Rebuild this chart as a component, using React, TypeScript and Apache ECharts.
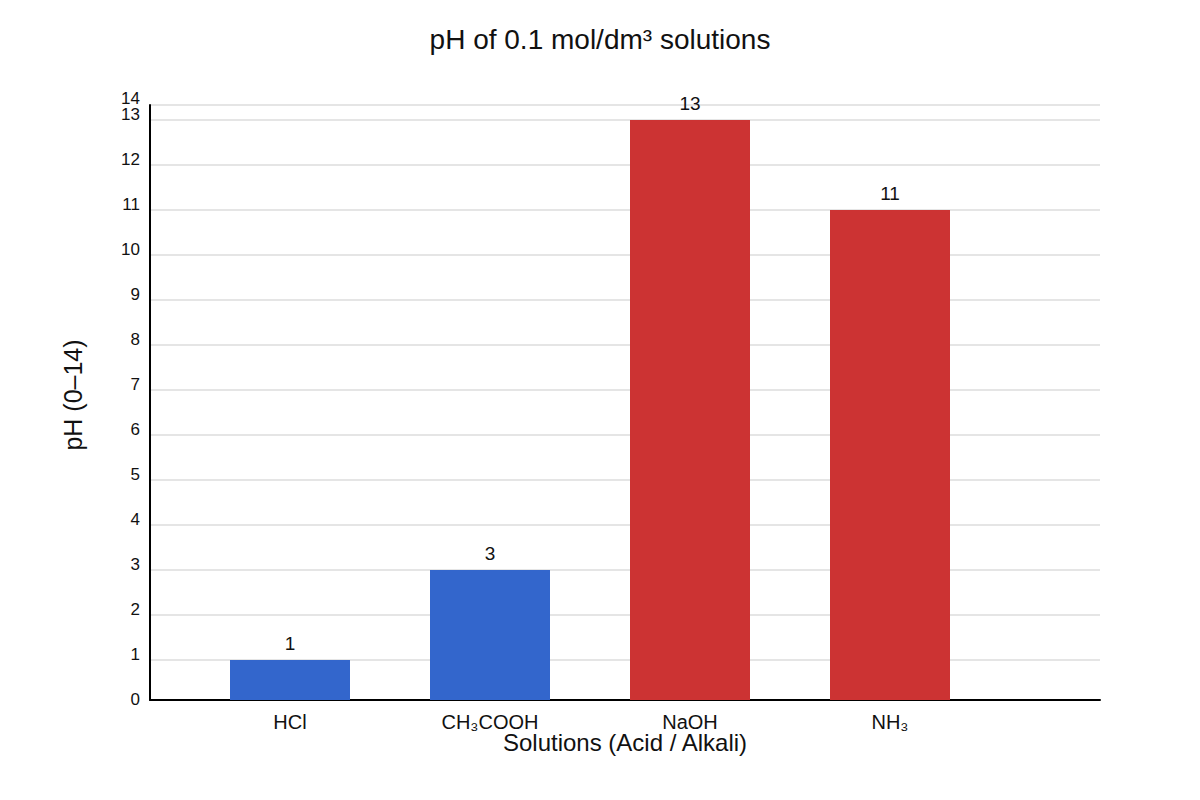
import { useEffect, useRef } from 'react'
import * as echarts from 'echarts'

// chart data
const categories = ['HCl', 'CH₃COOH', 'NaOH', 'NH₃']
const phValues = [1, 3, 13, 11]
const solutionTypes = ['acid', 'acid', 'alkali', 'alkali']

const typeColors: Record<string, string> = {
  acid: '#3366cc',
  alkali: '#cc3333',
}

// y range of the plot area (the reference axis sits a little above pH 0)
const Y_MIN = 1 / 9
const Y_MAX = 40 / 3

const FONT = '"Liberation Sans", Arial, sans-serif'

export default function App() {
  const chartRef = useRef<HTMLDivElement>(null)

  useEffect(() => {
    if (!chartRef.current) return
    const chart = echarts.init(chartRef.current, undefined, { renderer: 'svg' })

    const tickStyle = { fontSize: 17, color: '#111', fontFamily: FONT, lineHeight: 1 }

    const option = {
      animation: false,
      backgroundColor: '#ffffff',
      textStyle: { fontFamily: FONT },
      title: {
        text: 'pH of 0.1 mol/dm³ solutions',
        left: 'center',
        top: 20,
        textStyle: { fontSize: 28, fontWeight: 'normal', color: '#111', fontFamily: FONT },
      },
      grid: [
        // bars
        { left: 190, right: 210, top: 105, bottom: 100 },
        // frame: axis lines + gridlines
        { left: 150, right: 100, top: 105, bottom: 100 },
      ],
      xAxis: [
        {
          type: 'category',
          gridIndex: 0,
          data: categories,
          axisLine: { show: false },
          axisTick: { show: false },
          axisLabel: { fontSize: 20, color: '#111', margin: 12, fontFamily: FONT },
        },
        {
          type: 'value',
          gridIndex: 1,
          min: 0,
          max: 1,
          axisLine: { show: true, onZero: false, lineStyle: { color: '#000', width: 2 } },
          axisTick: { show: false },
          axisLabel: { show: false },
          splitLine: { show: false },
          name: 'Solutions (Acid / Alkali)',
          nameLocation: 'middle',
          nameGap: 30,
          nameTextStyle: { fontSize: 24, color: '#111', fontFamily: FONT },
        },
      ],
      yAxis: [
        {
          type: 'value',
          gridIndex: 0,
          min: Y_MIN,
          max: Y_MAX,
          show: false,
          splitLine: { show: false },
        },
        {
          // gridlines 1..13 plus the frame line
          type: 'value',
          gridIndex: 1,
          position: 'left',
          min: Y_MIN,
          max: Y_MAX,
          splitNumber: 13,
          minInterval: 1,
          maxInterval: 1,
          axisLine: { show: true, onZero: false, lineStyle: { color: '#000', width: 2 } },
          axisTick: { show: false },
          axisLabel: {
            margin: 10,
            showMinLabel: false,
            showMaxLabel: false,
            formatter: (v: number) => '{n|' + Math.round(v) + '}',
            rich: { n: { ...tickStyle, padding: [0, 0, 12, 0] } },
          },
          splitLine: { show: true, lineStyle: { color: '#dddddd', width: 1.5 } },
          name: 'pH (0–14)',
          nameLocation: 'middle',
          nameRotate: 90,
          nameGap: 65,
          nameTextStyle: { fontSize: 25, color: '#111', fontFamily: FONT, padding: [0, 0, 0, 15] },
        },
        {
          // end labels 0 and 14 at the bottom and top of the frame
          type: 'value',
          gridIndex: 1,
          position: 'left',
          min: Y_MIN,
          max: Y_MAX,
          axisLine: { show: false },
          axisTick: { show: false },
          splitLine: { show: false },
          axisLabel: {
            margin: 10,
            customValues: [Y_MIN, Y_MAX],
            formatter: (v: number) => (v < 1 ? '{z|0}' : '{t|14}'),
            rich: {
              t: { ...tickStyle, padding: [0, 0, 14, 0] },
              z: { ...tickStyle, padding: [0, 0, 2, 0] },
            },
          },
        },
      ],
      series: [
        {
          type: 'bar',
          xAxisIndex: 0,
          yAxisIndex: 0,
          barWidth: 120,
          data: phValues.map((v, i) => ({
            value: v,
            itemStyle: { color: typeColors[solutionTypes[i]] },
          })),
          label: {
            show: true,
            position: 'top',
            distance: 7,
            fontSize: 19,
            color: '#111',
            fontFamily: FONT,
          },
        },
      ],
    }

    chart.setOption(option)
    return () => {
      chart.dispose()
    }
  }, [])

  return (
    <div
      ref={chartRef}
      style={{ position: 'fixed', left: 0, top: 0, width: 1200, height: 800, background: '#fff' }}
    />
  )
}
